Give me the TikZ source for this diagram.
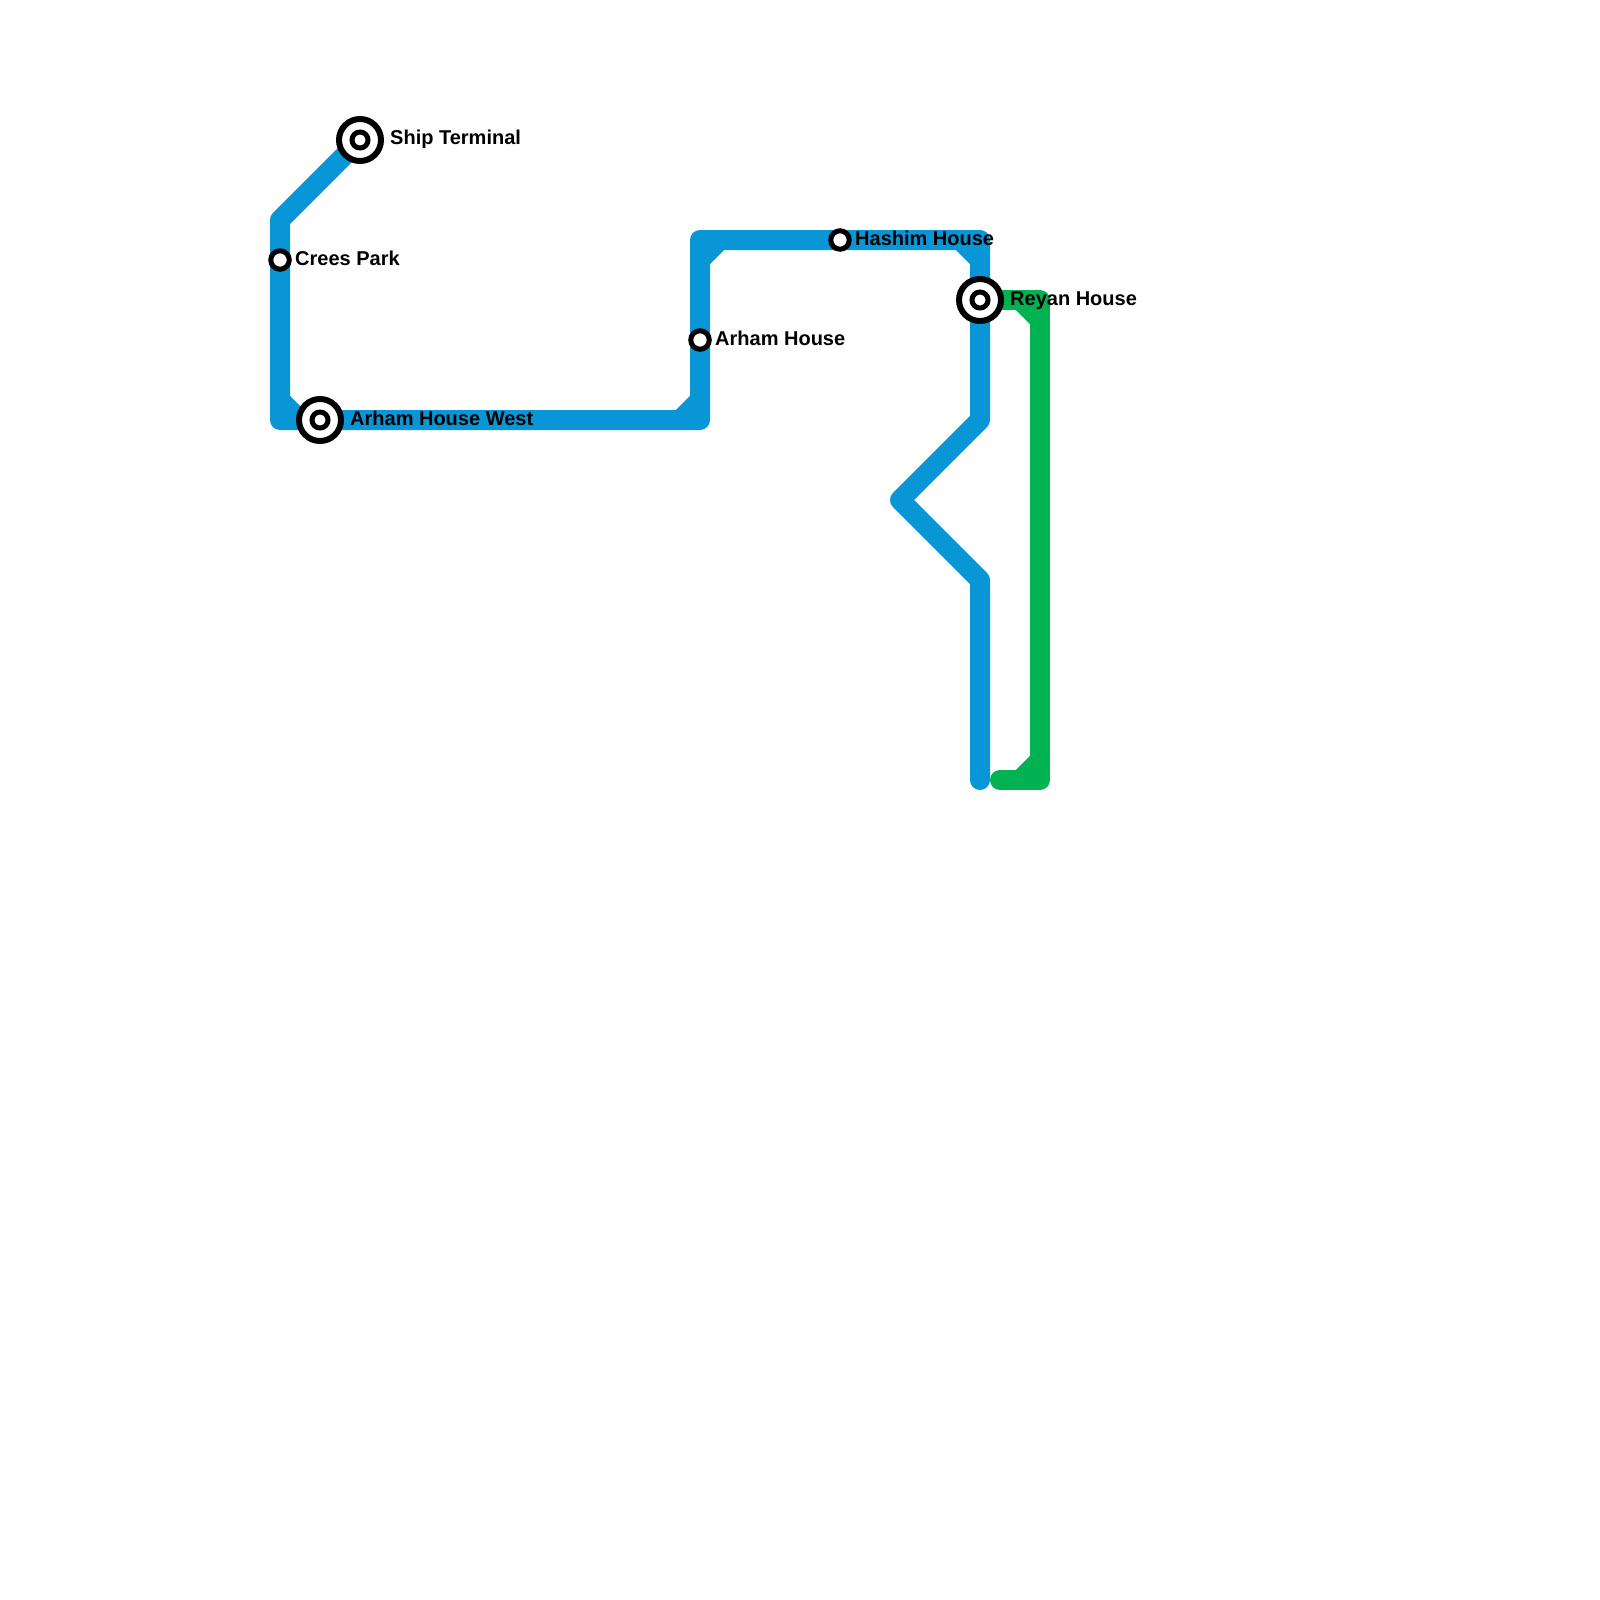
\documentclass[tikz,border=0pt]{standalone}
\usepackage{fontspec}
\setmainfont{Liberation Sans}
\definecolor{lineblue}{HTML}{0896D7}
\definecolor{linegreen}{HTML}{00B251}
\tikzset{
  route/.style={line width=20pt,line cap=round,line join=round},
  filler/.style={line width=20pt,line cap=butt},
  bluerun/.style={route,draw=lineblue},
  greenrun/.style={route,draw=linegreen},
  stop/.style={circle,draw=black,fill=white,inner sep=0pt,outer sep=0pt},
  stopsmall/.style={stop,line width=5pt,minimum size=18.5pt},
  stopbig/.style={stop,line width=6pt,minimum size=42pt},
  stopinner/.style={stop,line width=5pt,minimum size=16pt},
  stoplabel/.style={anchor=base west,inner sep=0pt,font=\bfseries\fontsize{20pt}{24pt}\selectfont,text=black}
}
\begin{document}
\begin{tikzpicture}[x=1pt,y=-1pt]
\useasboundingbox (0,0) rectangle (1600,1600);
\fill[white] (0,0) rectangle (1600,1600);
% route points
\coordinate (b1) at (360,140);
\coordinate (b2) at (280,220);
\coordinate (b3) at (280,420);
\coordinate (b4) at (700,420);
\coordinate (b5) at (700,240);
\coordinate (b6) at (980,240);
\coordinate (b7) at (980,420);
\coordinate (b8) at (900,500);
\coordinate (b9) at (980,580);
\coordinate (b10) at (980,780);
\coordinate (g1) at (980,300);
\coordinate (g2) at (1040,300);
\coordinate (g3) at (1040,780);
\coordinate (g4) at (1000,780);
% corner chamfers
\coordinate (c1a) at (280,400); \coordinate (c1b) at (300,420);
\coordinate (c2a) at (700,400); \coordinate (c2b) at (680,420);
\coordinate (c3a) at (700,260); \coordinate (c3b) at (720,240);
\coordinate (c4a) at (960,240); \coordinate (c4b) at (980,260);
\coordinate (c5a) at (1020,300); \coordinate (c5b) at (1040,320);
\coordinate (c6a) at (1040,760); \coordinate (c6b) at (1020,780);
% lines
\draw[greenrun] (g1) -- (g2) -- (g3) -- (g4);
\draw[filler,draw=linegreen] (c5a) -- (c5b);
\draw[filler,draw=linegreen] (c6a) -- (c6b);
\draw[bluerun] (b1) -- (b2) -- (b3) -- (b4) -- (b5) -- (b6) -- (b7) -- (b8) -- (b9) -- (b10);
\draw[filler,draw=lineblue] (c1a) -- (c1b);
\draw[filler,draw=lineblue] (c2a) -- (c2b);
\draw[filler,draw=lineblue] (c3a) -- (c3b);
\draw[filler,draw=lineblue] (c4a) -- (c4b);
% stations
\node[stopbig] (ship) at (b1) {};
\node[stopinner] (shipin) at (ship.center) {};
\node[stopbig] (west) at (320,420) {};
\node[stopinner] (westin) at (west.center) {};
\node[stopbig] (reyan) at (g1) {};
\node[stopinner] (reyanin) at (reyan.center) {};
\node[stopsmall] (crees) at (280,260) {};
\node[stopsmall] (arham) at (700,340) {};
\node[stopsmall] (hashim) at (840,240) {};
% labels
\node[stoplabel] (lship) at (390,145) {Ship Terminal};
\node[stoplabel] (lcrees) at (295,265) {Crees Park};
\node[stoplabel] (lwest) at (350,425) {Arham House West};
\node[stoplabel] (lhashim) at (855,245) {Hashim House};
\node[stoplabel] (larham) at (715,345) {Arham House};
\node[stoplabel] (lreyan) at (1010,305) {Reyan House};
\end{tikzpicture}
\end{document}
